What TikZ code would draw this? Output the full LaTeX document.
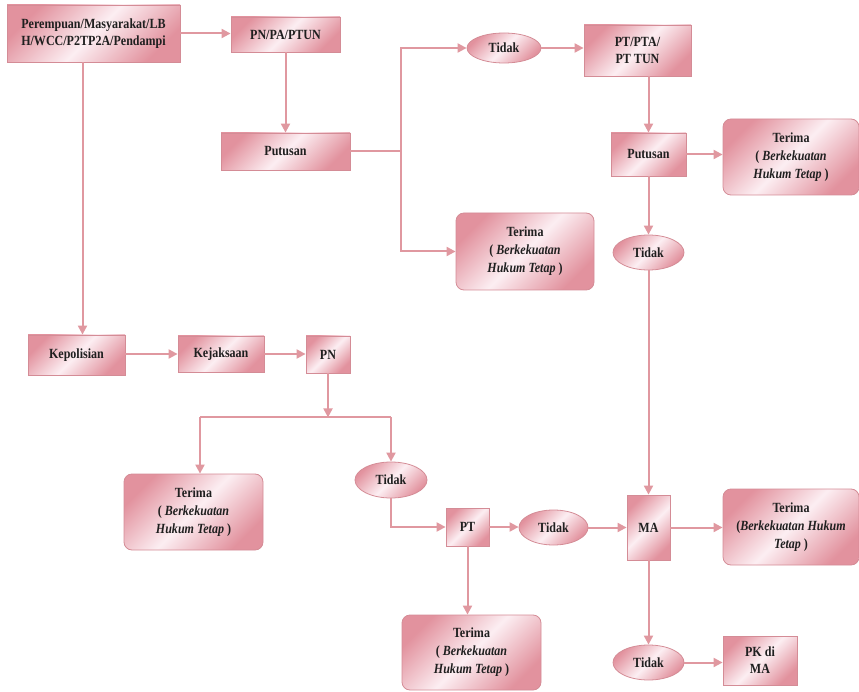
\documentclass[tikz,border=0pt]{standalone}
\usepackage{fontspec}
\setmainfont{Liberation Serif}[FakeStretch=0.86]
\usetikzlibrary{arrows.meta,shapes.geometric}
\definecolor{linec}{RGB}{224,152,160}
\definecolor{bordc}{RGB}{212,140,150}
\definecolor{dk}{RGB}{226,146,158}
\definecolor{lt}{RGB}{252,238,242}
\begin{document}
\begin{tikzpicture}[x=1pt,y=-1pt,
  base/.style={draw=bordc,line width=0.8pt,top color=dk,bottom color=dk,middle color=lt,shading angle=45,
    inner sep=0pt,align=center,font=\bfseries\fontsize{14}{17}\selectfont,text=black!88},
  box/.style={base,rectangle},
  rbox/.style={base,rectangle,rounded corners=8pt,font=\bfseries\fontsize{14}{18}\selectfont},
  oval/.style={base,ellipse},
  conn/.style={draw=linec,line width=2pt,-{Triangle[length=9pt,width=9pt]}},
  plain/.style={draw=linec,line width=2pt}]
\useasboundingbox (0,0) rectangle (859,692);

% top part
\node[box,minimum width=173pt,minimum height=57pt] (src) at (93.5,33.5) {Perempuan/Masyarakat/LB\\H/WCC/P2TP2A/Pendampi};
\node[box,minimum width=109pt,minimum height=35pt] (pnpa) at (285.5,34.5) {PN/PA/PTUN};
\node[box,minimum width=129pt,minimum height=37pt] (put1) at (285.5,151.5) {Putusan};
\node[oval,minimum width=74pt,minimum height=30pt] (tid1) at (504,48) {Tidak};
\node[box,minimum width=107pt,minimum height=51pt] (ptpta) at (637.5,50.5) {PT/PTA/\\PT TUN};
\node[rbox,minimum width=138pt,minimum height=77pt] (ter1) at (525,251.5) {Terima\\( \textit{Berkekuatan}\\\textit{Hukum Tetap} )};
\node[box,minimum width=75pt,minimum height=43pt] (put2) at (648.5,154.5) {Putusan};
\node[rbox,minimum width=136pt,minimum height=76pt] (ter2) at (791,157) {Terima\\( \textit{Berkekuatan}\\\textit{Hukum Tetap} )};
\node[oval,minimum width=71pt,minimum height=35pt] (tid2) at (648.5,252.5) {Tidak};

% bottom part
\node[box,minimum width=97pt,minimum height=40pt] (kep) at (76.5,355) {Kepolisian};
\node[box,minimum width=86pt,minimum height=36pt] (kej) at (221,354) {Kejaksaan};
\node[box,minimum width=44pt,minimum height=37pt] (pn) at (328,354.5) {PN};
\node[rbox,minimum width=139pt,minimum height=76pt] (ter3) at (193.5,512) {Terima\\( \textit{Berkekuatan}\\\textit{Hukum Tetap} )};
\node[oval,minimum width=72pt,minimum height=36pt] (tid3) at (391,480) {Tidak};
\node[box,minimum width=43pt,minimum height=38pt] (pt) at (467.5,527) {PT};
\node[oval,minimum width=69pt,minimum height=35pt] (tid4) at (553.5,527.5) {Tidak};
\node[box,minimum width=43pt,minimum height=65pt] (ma) at (648.5,527.5) {MA};
\node[rbox,minimum width=136pt,minimum height=76pt] (ter4) at (791,527) {Terima\\(\textit{Berkekuatan Hukum}\\\textit{Tetap} )};
\node[rbox,minimum width=139pt,minimum height=75pt] (ter5) at (471.5,652.5) {Terima\\( \textit{Berkekuatan}\\\textit{Hukum Tetap} )};
\node[oval,minimum width=71pt,minimum height=35pt] (tid5) at (648.5,662.5) {Tidak};
\node[box,minimum width=74pt,minimum height=49pt] (pk) at (760,660.5) {PK di\\MA};

% connectors top
\draw[conn] (src.east) -- (src.east -| pnpa.west);
\draw[conn] (pnpa.south) -- (pnpa.south |- put1.north);
\draw[conn] ([xshift=-11pt]src.south) -- ([xshift=-11pt]src.south |- kep.north);
\draw[plain] (put1.east) -- ++(51,0) coordinate (br1);
\draw[conn] (br1) |- (tid1.west);
\draw[conn] (br1) |- (ter1.west);
\draw[conn] (tid1.east) -- (tid1.east -| ptpta.west);
\draw[conn] (put2.north |- ptpta.south) -- (put2.north);
\draw[conn] (put2.east) -- (put2.east -| ter2.west);
\draw[conn] (put2.south) -- (tid2.north);
\draw[conn] (tid2.south) -- (ma.north);

% connectors bottom
\draw[conn] (kep.east |- kej.west) -- (kej.west);
\draw[conn] (kej.east) -- (kej.east -| pn.west);
\draw[conn] (pn.south) -- ++(0,44) coordinate (br2);
\coordinate (t3top) at ([xshift=6.5pt]ter3.north);
\draw[plain] (br2 -| t3top) -- (br2 -| tid3.north);
\draw[conn] (br2 -| t3top) -- (t3top);
\draw[conn] (br2 -| tid3.north) -- (tid3.north);
\draw[conn] (tid3.south) |- (pt.west);
\draw[conn] (pt.east) -- (pt.east -| tid4.west);
\draw[conn] (tid4.east) -- (tid4.east -| ma.west);
\draw[conn] (ma.east) -- (ma.east -| ter4.west);
\draw[conn] (pt.south) -- (pt.south |- ter5.north);
\draw[conn] (ma.south) -- (tid5.north);
\draw[conn] (tid5.east) -- (tid5.east -| pk.west);
\end{tikzpicture}
\end{document}
